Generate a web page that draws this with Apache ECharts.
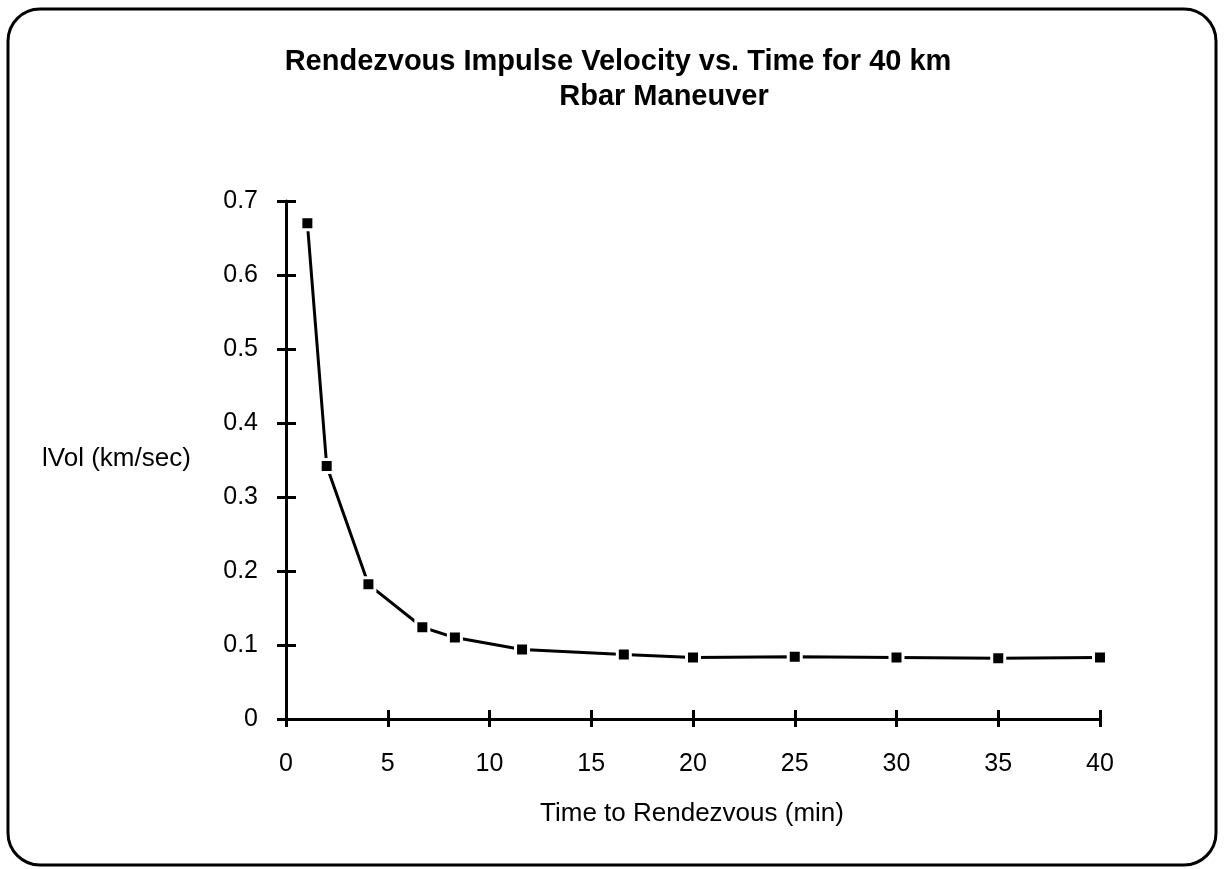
<!DOCTYPE html>
<html>
<head>
<meta charset="utf-8">
<script src="https://cdn.jsdelivr.net/npm/echarts@6/dist/echarts.min.js"></script>
<style>
html,body{margin:0;padding:0;background:#fff;}
#chart{width:1224px;height:869px;}
</style>
</head>
<body>
<div id="chart"></div>
<script>
// Data
var timeMin = [1.05, 2.0, 4.05, 6.7, 8.3, 11.6, 16.6, 20, 25, 30, 35, 40];
var impulseVel = [0.670, 0.342, 0.182, 0.124, 0.110, 0.094, 0.087, 0.083, 0.084, 0.083, 0.082, 0.083];
var xTicks = [0, 5, 10, 15, 20, 25, 30, 35, 40];
var yTicks = [0, 0.1, 0.2, 0.3, 0.4, 0.5, 0.6, 0.7];
var titleLines = ['Rendezvous Impulse Velocity vs. Time for 40 km', 'Rbar Maneuver'];
var xName = 'Time to Rendezvous (min)';
var yName = 'lVol (km/sec)';

var points = timeMin.map(function (t, i) { return [t, impulseVel[i]]; });
var FONT = '"Liberation Sans", Arial, Helvetica, sans-serif';

var chart = echarts.init(document.getElementById('chart'));
var axisLineStyle = { color: '#000', width: 3 };
var tickStyle = { color: '#000', width: 3 };

chart.setOption({
  backgroundColor: '#fff',
  animation: false,
  graphic: [
    { type: 'rect', shape: { x: 8, y: 9, width: 1208, height: 856, r: 32 },
      style: { fill: 'none', stroke: '#000', lineWidth: 3 }, z: 0 },
    { type: 'text', x: 618, y: 62,
      style: { text: titleLines[0], font: 'bold 29px ' + FONT, fill: '#000', align: 'center', verticalAlign: 'middle' } },
    { type: 'text', x: 664, y: 97,
      style: { text: titleLines[1], font: 'bold 29px ' + FONT, fill: '#000', align: 'center', verticalAlign: 'middle' } },
    { type: 'text', x: 42, y: 459,
      style: { text: yName, font: '26px ' + FONT, fill: '#000', align: 'left', verticalAlign: 'middle' } },
    { type: 'text', x: 692, y: 814,
      style: { text: xName, font: '26px ' + FONT, fill: '#000', align: 'center', verticalAlign: 'middle' } }
  ],
  grid: { left: 286, right: 124, top: 201, bottom: 150, containLabel: false },
  xAxis: [
    { type: 'value', min: 0, max: 40, interval: 5, position: 'bottom',
      axisLine: { show: true, onZero: false, lineStyle: axisLineStyle },
      axisTick: { show: true, inside: false, length: 8, lineStyle: tickStyle },
      axisLabel: { show: true, margin: 33, color: '#000', fontSize: 25, fontFamily: FONT,
        formatter: function (v) { return xTicks.indexOf(v) >= 0 ? String(v) : ''; } },
      splitLine: { show: false } },
    { type: 'value', min: 0, max: 40, interval: 5, position: 'bottom', offset: 0,
      axisLine: { show: false, onZero: false },
      axisTick: { show: true, inside: true, length: 9, lineStyle: tickStyle },
      axisLabel: { show: false }, splitLine: { show: false } }
  ],
  yAxis: [
    { type: 'value', min: 0, max: 0.7, interval: 0.1, position: 'left',
      axisLine: { show: true, onZero: false, lineStyle: axisLineStyle },
      axisTick: { show: true, inside: false, length: 9, lineStyle: tickStyle },
      axisLabel: { show: true, margin: 28, color: '#000', fontSize: 25, fontFamily: FONT,
        formatter: function (v) {
          var r = Math.round(v * 10) / 10;
          return yTicks.indexOf(r) >= 0 ? (r === 0 ? '0' : r.toFixed(1)) : '';
        } },
      splitLine: { show: false } },
    { type: 'value', min: 0, max: 0.7, interval: 0.1, position: 'left', offset: 0,
      axisLine: { show: false, onZero: false },
      axisTick: { show: true, inside: true, length: 10, lineStyle: tickStyle },
      axisLabel: { show: false }, splitLine: { show: false } }
  ],
  series: [
    { type: 'line', xAxisIndex: 0, yAxisIndex: 0, data: points,
      symbol: 'rect', symbolSize: 13,
      itemStyle: { color: '#000', borderColor: '#fff', borderWidth: 3 },
      lineStyle: { color: '#000', width: 3 },
      showSymbol: true, z: 3 }
  ]
});
</script>
</body>
</html>
